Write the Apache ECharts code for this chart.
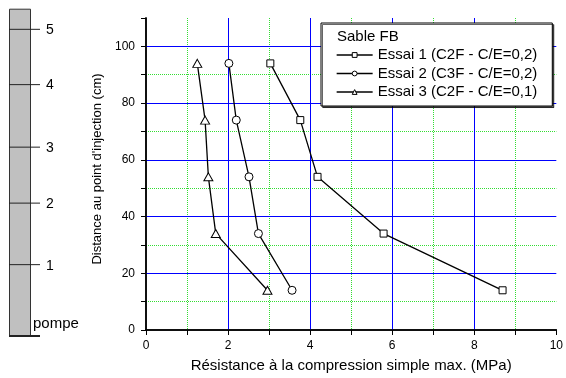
<!DOCTYPE html>
<html>
<head>
<meta charset="utf-8">
<script src="https://cdn.jsdelivr.net/npm/echarts@6/dist/echarts.min.js"></script>
<style>
  html, body { margin: 0; padding: 0; background: #fff; }
  #chart { width: 566px; height: 378px; }
</style>
</head>
<body>
<div id="chart"></div>
<script>
// distance from the injection point (cm)
const distances = [14, 34, 54, 74, 94];

// max. unconfined compression strength (MPa)
const essai1 = [8.69, 5.79, 4.18, 3.76, 3.03];
const essai2 = [3.56, 2.74, 2.51, 2.20, 2.02];
const essai3 = [2.96, 1.70, 1.52, 1.44, 1.25];

const seriesNames = [
    'Essai 1 (C2F - C/E=0,2)',
    'Essai 2 (C3F - C/E=0,2)',
    'Essai 3 (C2F - C/E=0,1)'
];

// sampling levels along the column sketch on the left (0..100 of its height)
const levelLabels = ['pompe', '1', '2', '3', '4', '5'];
const levelPos = [0, 21.8, 40.6, 57.7, 76.8, 93.7];

const font = '"Liberation Sans", Arial, sans-serif';
const blue = '#0000ff';
const green = '#33dd33';
const none = 'rgba(0,0,0,0)';

const pairs = (xs) => xs.map((x, i) => [x, distances[i]]);

const chart = echarts.init(document.getElementById('chart'));

const options = {
    animation: false,
    backgroundColor: '#fff',
    textStyle: { fontFamily: font, color: '#000' },
    title: {
        text: 'Sable FB',
        left: 337,
        top: 29,
        padding: 0,
        textStyle: { fontFamily: font, fontSize: 15, fontWeight: 'normal', color: '#000' }
    },
    legend: {
        orient: 'vertical',
        left: 321,
        top: 23,
        padding: [23, 15, 5, 15],
        itemWidth: 36,
        itemHeight: 6,
        itemGap: 0.5,
        backgroundColor: '#fff',
        borderColor: '#000',
        borderWidth: 1,
        borderRadius: 0,
        shadowColor: 'rgba(0,0,0,0.6)',
        shadowBlur: 0.5,
        shadowOffsetX: 1.5,
        shadowOffsetY: 1.5,
        itemStyle: { color: '#fff', borderColor: '#000', borderWidth: 1 },
        lineStyle: { color: '#000', width: 1.3 },
        textStyle: { fontFamily: font, fontSize: 15, color: '#000', lineHeight: 18 },
        data: seriesNames
    },
    grid: [
        { left: 146, top: 18, right: 7, bottom: 47 },
        { left: 9, top: 8.7, width: 22, height: 327.3 }
    ],
    xAxis: [
        {
            // minor grid (odd values) + ticks + labels
            gridIndex: 0, type: 'value', min: 0, max: 10, interval: 1, z: 1,
            name: 'Résistance à la compression simple max. (MPa)',
            nameLocation: 'middle', nameGap: 28,
            nameTextStyle: { fontFamily: font, fontSize: 15, color: '#000' },
            axisLine: { lineStyle: { color: '#000', width: 1.5 } },
            axisTick: { length: 5, lineStyle: { color: '#000' } },
            axisLabel: {
                margin: 10, fontSize: 12, color: '#000', fontFamily: font,
                formatter: (v) => (v % 2 === 0 ? String(v) : '')
            },
            splitLine: {
                show: true, showMinLine: false, showMaxLine: false,
                lineStyle: { color: [green, none], type: [1, 1], width: 1 }
            }
        },
        {
            // major grid
            gridIndex: 0, type: 'value', min: 0, max: 10, interval: 2, z: 2,
            axisLine: { show: false }, axisTick: { show: false }, axisLabel: { show: false },
            splitLine: {
                show: true, showMinLine: false, showMaxLine: false,
                lineStyle: { color: blue, width: 1 }
            }
        },
        {
            // top frame
            gridIndex: 0, type: 'value', min: 0, max: 10, interval: 2, position: 'top', z: 3,
            axisLine: { lineStyle: { color: '#000', width: 1.5 } },
            axisTick: { show: false }, axisLabel: { show: false }, splitLine: { show: false }
        },
        {
            gridIndex: 1, type: 'category', data: ['tube'], show: false
        }
    ],
    yAxis: [
        {
            gridIndex: 0, type: 'value', min: 0, max: 110, interval: 10, z: 1,
            name: "Distance au point d'injection (cm)",
            nameLocation: 'middle', nameGap: 40,
            nameTextStyle: { fontFamily: font, fontSize: 13, color: '#000', padding: [0, 0, 0, 10] },
            axisLine: { lineStyle: { color: '#000', width: 1.5 } },
            axisTick: { length: 5, lineStyle: { color: '#000' } },
            axisLabel: {
                margin: 11, fontSize: 12, color: '#000', fontFamily: font,
                formatter: (v) => (v % 20 === 0 ? String(v) : '')
            },
            splitLine: {
                show: true, showMinLine: false, showMaxLine: false,
                lineStyle: { color: [green, none], type: [1, 1], width: 1 }
            }
        },
        {
            gridIndex: 0, type: 'value', min: 0, max: 110, interval: 20, z: 2,
            axisLine: { show: false }, axisTick: { show: false }, axisLabel: { show: false },
            splitLine: {
                show: true, showMinLine: false, showMaxLine: false,
                lineStyle: { color: blue, width: 1 }
            }
        },
        {
            // right frame
            gridIndex: 0, type: 'value', min: 0, max: 110, interval: 20, position: 'right', z: 3,
            axisLine: { lineStyle: { color: '#000', width: 1.5 } },
            axisTick: { show: false }, axisLabel: { show: false }, splitLine: { show: false }
        },
        {
            gridIndex: 1, type: 'value', min: 0, max: 100, show: false
        }
    ],
    series: [
        {
            name: seriesNames[0], type: 'line', xAxisIndex: 0, yAxisIndex: 0, z: 5,
            data: pairs(essai1),
            symbol: 'rect', symbolSize: 7,
            lineStyle: { color: '#000', width: 1.3 },
            itemStyle: { color: '#fff', borderColor: '#000', borderWidth: 1 }
        },
        {
            name: seriesNames[1], type: 'line', xAxisIndex: 0, yAxisIndex: 0, z: 5,
            data: pairs(essai2),
            symbol: 'circle', symbolSize: 8,
            lineStyle: { color: '#000', width: 1.3 },
            itemStyle: { color: '#fff', borderColor: '#000', borderWidth: 1 }
        },
        {
            name: seriesNames[2], type: 'line', xAxisIndex: 0, yAxisIndex: 0, z: 5,
            data: pairs(essai3),
            symbol: 'triangle', symbolSize: [9, 8],
            lineStyle: { color: '#000', width: 1.3 },
            itemStyle: { color: '#fff', borderColor: '#000', borderWidth: 1 }
        },
        {
            // the grey column sketch
            type: 'bar', xAxisIndex: 3, yAxisIndex: 3,
            data: [100], barWidth: '100%', silent: true,
            itemStyle: { color: '#c0c0c0', borderColor: '#333', borderWidth: 1 }
        },
        {
            type: 'custom', xAxisIndex: 3, yAxisIndex: 3, silent: true, z: 3,
            data: levelPos.map((v) => [0, v]),
            renderItem: (params, api) => {
                const cs = params.coordSys;
                const y = api.coord([0, api.value(1)])[1];
                const i = params.dataIndex;
                const base = i === 0;
                const edge = cs.x + cs.width;
                return {
                    type: 'group',
                    children: [
                        {
                            type: 'line',
                            shape: { x1: cs.x, y1: y, x2: edge + 9, y2: y },
                            style: { stroke: '#222', lineWidth: base ? 2 : 1 }
                        },
                        {
                            type: 'text',
                            style: {
                                text: levelLabels[i],
                                x: base ? edge + 2 : edge + 15,
                                y: base ? y - 5 : y + 1,
                                verticalAlign: base ? 'bottom' : 'middle',
                                align: 'left',
                                fill: '#000',
                                font: (base ? '15px ' : '14px ') + font
                            }
                        }
                    ]
                };
            }
        }
    ]
};

chart.setOption(options);
</script>
</body>
</html>
